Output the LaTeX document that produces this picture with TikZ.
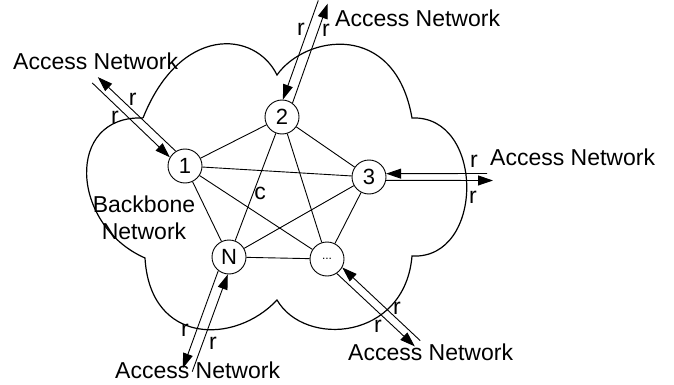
\documentclass[tikz,border=0pt]{standalone}
\usepackage{fontspec}
\setmainfont{Liberation Sans}
\usetikzlibrary{arrows.meta}

\begin{document}
\begin{tikzpicture}[x=1pt,y=-1pt,
  netnode/.style={circle,draw,fill=white,minimum size=34pt,inner sep=0pt,
    line width=0.9pt,font=\fontsize{22}{26}\selectfont},
  mesh/.style={line width=0.9pt},
  link/.style={line width=0.9pt,-{Triangle[length=15pt,width=10pt]}},
  lbl/.style={inner sep=0pt,font=\fontsize{23}{27}\selectfont},
  cloudline/.style={line width=1.2pt}]
\useasboundingbox (0,0) rectangle (674,385);

% backbone cloud outline
\draw[cloudline] (143,118) .. controls (180,25) and (255,30) .. (277,75)
  .. controls (305,35) and (395,20) .. (412,118)
  .. controls (485,115) and (485,260) .. (412,256)
  .. controls (405,340) and (305,348) .. (277,300)
  .. controls (235,345) and (150,345) .. (145,258)
  .. controls (70,225) and (65,115) .. (143,118);

\node[lbl,align=center] (bb) at (144,218) {Backbone\\Network};

% routers
\node[netnode] (n1) at (185,166) {1};
\node[netnode] (n2) at (282,117) {2};
\node[netnode] (n3) at (369,177) {3};
\node[netnode] (nN) at (229,257) {N};
\node[netnode,font=\fontsize{12}{14}\selectfont] (nd) at (327,259) {...};

% full mesh between routers
\draw[mesh] (n1) -- (n2);
\draw[mesh] (n1) -- (n3);
\draw[mesh] (n1) -- (nN);
\draw[mesh] (n1) -- (nd);
\draw[mesh] (n2) -- (n3);
\draw[mesh] (n2) -- (nN);
\draw[mesh] (n2) -- (nd);
\draw[mesh] (n3) -- (nN);
\draw[mesh] (n3) -- (nd);
\draw[mesh] (nN) -- (nd);
\node[lbl] (c) at (260,193) {c};

% access links of router 1
\coordinate (f1o) at (97.8,77.1);
\coordinate (f1i) at (92.2,82.9);
\draw[link] (n1.122.7) -- (f1o);
\draw[link] (f1i) -- (n1.150);
\node[lbl] (r1a) at (132.7,99.3) {r};
\node[lbl] (r1b) at (115,117.3) {r};
\node[lbl,anchor=base west] (a1) at (13,69.5) {Access Network};

% access links of router 2
\coordinate (f2o) at (327.7,3.6);
\coordinate (f2i) at (318.3,0.4);
\draw[link] (n2.53.7) -- (f2o);
\draw[link] (f2i) -- (n2.87.9);
\node[lbl] (r2a) at (301,29.3) {r};
\node[lbl] (r2b) at (326,30.7) {r};
\node[lbl,anchor=base west] (a2) at (335,27) {Access Network};

% access links of router 3
\coordinate (f3i) at (487,173.5);
\coordinate (f3o) at (493,180.5);
\draw[link] (f3i) -- (n3.11.9);
\draw[link] (n3.-11.9) -- (f3o);
\node[lbl] (r3a) at (474,161) {r};
\node[lbl] (r3b) at (473,197) {r};
\node[lbl,anchor=base west] (a3) at (490,165) {Access Network};

% access links of router N
\coordinate (fNi) at (192.2,371.7);
\coordinate (fNo) at (182.8,368.3);
\draw[link] (fNi) -- (nN.266.9);
\draw[link] (nN.232.7) -- (fNo);
\node[lbl] (rNa) at (185,330) {r};
\node[lbl] (rNb) at (213,343) {r};
\node[lbl,anchor=base west] (aN) at (115,378) {Access Network};

% access links of the remaining routers
\coordinate (fdi) at (420.2,340.6);
\coordinate (fdo) at (414.8,346.4);
\draw[link] (fdi) -- (nd.-29.45);
\draw[link] (nd.-56.65) -- (fdo);
\node[lbl] (rda) at (397,308) {r};
\node[lbl] (rdb) at (378,326) {r};
\node[lbl,anchor=base west] (ad) at (348,360.5) {Access Network};
\end{tikzpicture}
\end{document}
